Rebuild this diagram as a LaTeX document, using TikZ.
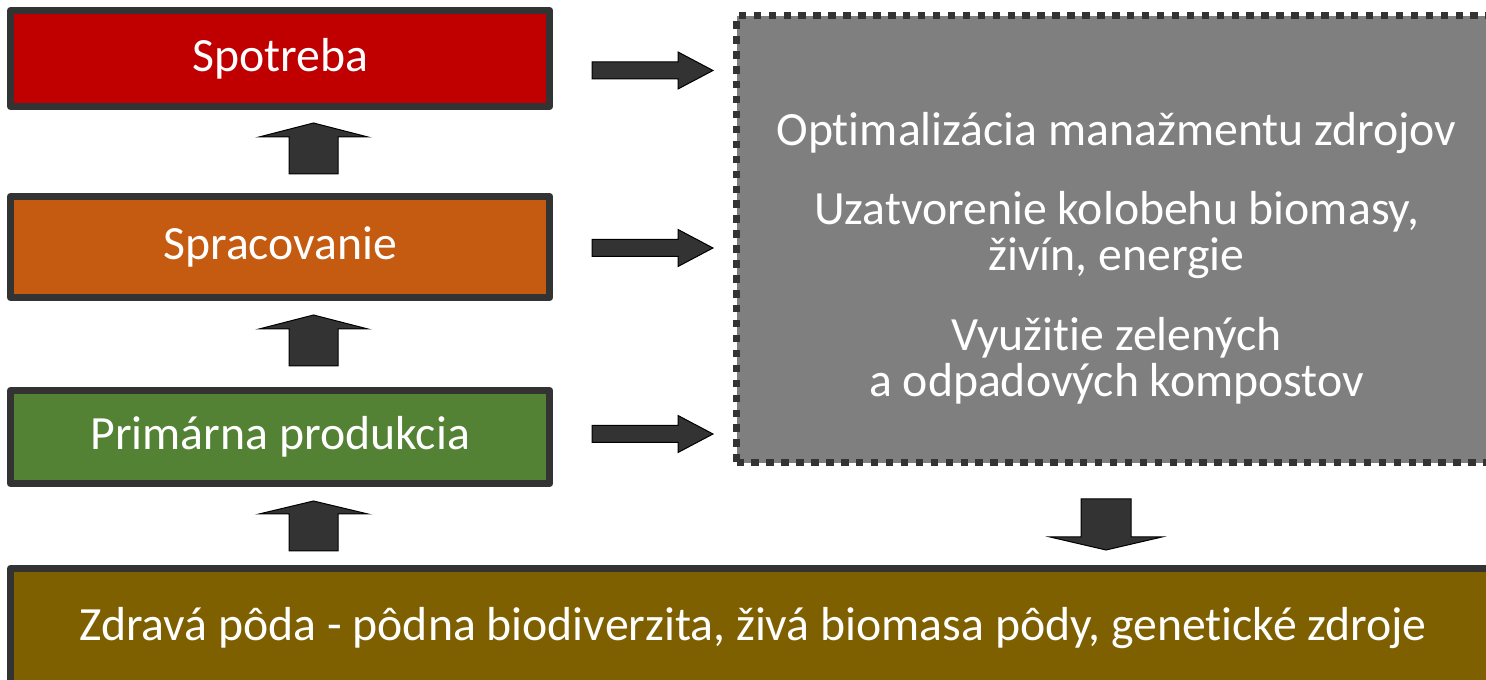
\documentclass[tikz,border=0pt]{standalone}
\usepackage{fontspec}
\setmainfont[Ligatures=NoCommon]{Carlito}

\definecolor{boxline}{RGB}{51,51,51}
\definecolor{arrowfill}{RGB}{51,51,51}
\definecolor{spotrebared}{RGB}{192,0,0}
\definecolor{spracorange}{RGB}{197,90,17}
\definecolor{primgreen}{RGB}{84,130,53}
\definecolor{soilolive}{RGB}{127,96,0}
\definecolor{mgmtgray}{RGB}{127,127,127}

\tikzset{every picture/.style={line width=0.75pt}}
\tikzset{
  stagebox/.style={draw=boxline, line width=5.25pt, line join=round, text=white,
    inner sep=0pt, font=\fontsize{35.8}{34.5}\selectfont},
  blockarrow/.style={draw=black, fill=arrowfill, line width=0.75pt, line join=miter}
}

\begin{document}
\begin{tikzpicture}[x=0.75pt,y=0.75pt,yscale=-1,xscale=1]
\useasboundingbox (0,0) rectangle (1486,680);

%Shape: Rectangle [id:spotreba]
\node [stagebox, fill=spotrebared, minimum width=404.6pt, minimum height=72pt] (spotreba) at (280.25,58.5) {Spotreba};
%Shape: Rectangle [id:spracovanie]
\node [stagebox, fill=spracorange, minimum width=404.6pt, minimum height=75.75pt] (spracovanie) at (280.25,247) {Spracovanie};
%Shape: Rectangle [id:primarna]
\node [stagebox, fill=primgreen, minimum width=404.6pt, minimum height=69.75pt] (primarna) at (280.25,437) {Primárna produkcia};
%Shape: Rectangle [id:soil]
\node [stagebox, fill=soilolive, minimum width=1113.75pt, minimum height=89.25pt] (soil) at (753,628) {Zdravá pôda - pôdna biodiverzita, živá biomasa pôdy, genetické zdroje};
%Shape: Rectangle [id:mgmt]
\node [stagebox, fill=mgmtgray, dash pattern=on 5.6pt off 5.6pt, line join=miter, minimum width=569.6pt, minimum height=335.25pt] (mgmt) at (1116.25,239.5) {};

%Up Arrow [id:up1]
\draw [blockarrow] (289,174) -- (289,137) -- (259,137) -- (313.5,123) -- (368,137) -- (338,137) -- (338,174) -- cycle ;
%Up Arrow [id:up2]
\draw [blockarrow] (289,366) -- (289,329) -- (259,329) -- (313.5,315) -- (368,329) -- (338,329) -- (338,366) -- cycle ;
%Up Arrow [id:up3]
\draw [blockarrow] (289,551) -- (289,514) -- (259,514) -- (313.5,501) -- (368,514) -- (338,514) -- (338,551) -- cycle ;

%Right Arrow [id:right1]
\draw [blockarrow] (592,62) -- (678,62) -- (678,52) -- (713,70.5) -- (678,89) -- (678,79) -- (592,79) -- cycle ;
%Right Arrow [id:right2]
\draw [blockarrow] (592,239.5) -- (678,239.5) -- (678,229.5) -- (713,248) -- (678,266.5) -- (678,256.5) -- (592,256.5) -- cycle ;
%Right Arrow [id:right3]
\draw [blockarrow] (592,425.5) -- (678,425.5) -- (678,415.5) -- (713,434) -- (678,452.5) -- (678,442.5) -- (592,442.5) -- cycle ;

%Down Arrow [id:down1]
\draw [blockarrow] (1081,499) -- (1131,499) -- (1131,537) -- (1162,537) -- (1106,550) -- (1050,537) -- (1081,537) -- cycle ;

% Text Node
\node [text=white, inner sep=0pt, align=center, font=\fontsize{35.8}{34.5}\selectfont] (mgmttext) at (1116.5,258)
  {Optimalizácia manažmentu zdrojov\\[25pt]
   Uzatvorenie kolobehu biomasy,\\ živín, energie\\[25pt]
   Využitie zelených\\ a odpadových kompostov};

\end{tikzpicture}
\end{document}
